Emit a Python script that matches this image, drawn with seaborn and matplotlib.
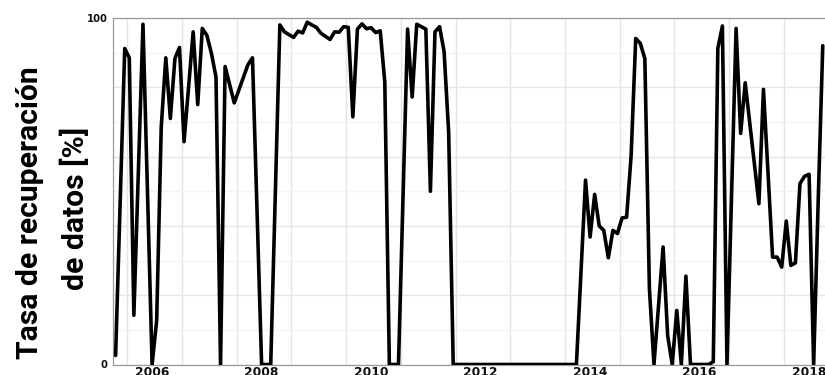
import matplotlib
matplotlib.use("Agg")
import matplotlib.pyplot as plt
from matplotlib.ticker import MultipleLocator, FuncFormatter
import pandas as pd
import seaborn as sns

# Monthly data recovery rate (%), listed at the months where the series changes course
months = [
    "2005-10", "2005-12", "2006-01", "2006-02", "2006-04", "2006-06", "2006-07", "2006-08",
    "2006-09", "2006-10", "2006-11", "2006-12", "2007-01", "2007-03", "2007-04", "2007-05",
    "2007-06", "2007-07", "2007-08", "2007-09", "2007-10", "2007-12", "2008-03", "2008-04",
    "2008-06", "2008-08", "2008-10", "2008-11", "2008-12", "2009-01", "2009-02", "2009-03",
    "2009-04", "2009-05", "2009-06", "2009-07", "2009-09", "2009-10", "2009-11", "2009-12",
    "2010-01", "2010-02", "2010-03", "2010-04", "2010-05", "2010-06", "2010-07", "2010-08",
    "2010-09", "2010-10", "2010-12", "2011-02", "2011-03", "2011-04", "2011-06", "2011-07",
    "2011-08", "2011-09", "2011-10", "2011-11", "2011-12", "2014-03", "2014-05", "2014-06",
    "2014-07", "2014-08", "2014-09", "2014-10", "2014-11", "2014-12", "2015-01", "2015-02",
    "2015-03", "2015-04", "2015-05", "2015-06", "2015-07", "2015-08", "2015-10", "2015-11",
    "2015-12", "2016-01", "2016-02", "2016-03", "2016-04", "2016-08", "2016-09", "2016-10",
    "2016-11", "2016-12", "2017-02", "2017-03", "2017-04", "2017-07", "2017-08", "2017-10",
    "2017-11", "2017-12", "2018-01", "2018-02", "2018-03", "2018-04", "2018-05", "2018-06",
    "2018-07", "2018-08", "2018-09",
]
rate = [
    2.6, 91.2, 88.5, 14.2, 98.2, 0.0, 12.7, 68.5,
    88.5, 71.0, 88.3, 91.5, 64.3, 96.0, 75.0, 97.0,
    95.0, 89.8, 83.0, 0.0, 86.0, 75.5, 86.5, 88.5,
    0.0, 0.0, 98.0, 96.0, 95.2, 94.4, 96.2, 95.7,
    98.8, 98.0, 97.3, 95.6, 93.8, 96.0, 95.9, 97.5,
    97.3, 71.5, 96.8, 98.3, 96.9, 97.2, 95.8, 96.3,
    81.5, 0.0, 0.0, 96.8, 77.2, 98.2, 96.8, 50.0,
    96.0, 97.5, 90.3, 67.0, 0.0, 0.0, 53.2, 36.8,
    49.1, 40.0, 38.7, 30.8, 38.7, 37.8, 42.3, 42.5,
    60.4, 94.1, 92.7, 88.3, 21.9, 0.0, 33.9, 8.4,
    0.0, 15.6, 0.0, 25.5, 0.0, 0.0, 0.8, 91.2,
    97.7, 0.0, 97.0, 66.7, 81.3, 46.4, 79.4, 31.0,
    31.0, 28.1, 41.4, 28.6, 29.3, 52.2, 54.3, 54.9,
    0.0, 47.4, 92.0,
]
label_years = [2006, 2008, 2010, 2012, 2014, 2016, 2018]
y_labels = ["0", "100"]
title_lines = ["Tasa de recuperación", "de datos [%]"]


def decimal_year(ym):
    y, m = ym.split("-")
    return int(y) + (int(m) - 0.5) / 12.0


df = pd.DataFrame({"t": [decimal_year(m) for m in months], "rate": rate})

sns.set_style("white")
plt.rcParams["font.family"] = ["DejaVu Sans"]

fig = plt.figure(figsize=(8.25, 3.75), dpi=100)
W, H = 825.0, 375.0
ax = fig.add_axes([113 / W, (H - 364.5) / H, 712 / W, 346.5 / H])

sns.lineplot(data=df, x="t", y="rate", ax=ax, color="black", linewidth=2.6,
             estimator=None, sort=False, zorder=3)

ax.set_xlim(2005.744, 2018.749)
ax.set_ylim(0, 100)

# vertical grid at each year start, labels centred within the year
ax.xaxis.set_minor_locator(MultipleLocator(1))
ax.set_xticks([y + 0.457 for y in label_years], labels=[str(y) for y in label_years])
ax.grid(axis="x", which="minor", color="#e4e4e4", linewidth=1.0)
ax.grid(axis="x", which="major", visible=False)

ax.yaxis.set_major_locator(MultipleLocator(20))
ax.yaxis.set_minor_locator(MultipleLocator(10))
ax.yaxis.set_major_formatter(FuncFormatter(
    lambda v, p: y_labels[0] if v == 0 else (y_labels[1] if v == 100 else "")))
ax.grid(axis="y", which="major", color="#e6e6e6", linewidth=1.0)
ax.grid(axis="y", which="minor", color="#f3f3f3", linewidth=1.0)

ax.tick_params(axis="x", which="both", length=0, pad=1.0, labelsize=8.8, labelcolor="#111111")
ax.tick_params(axis="y", which="both", length=0, pad=4, labelsize=7.2, labelcolor="#111111")
for lbl in ax.get_xticklabels() + ax.get_yticklabels():
    lbl.set_fontweight("bold")

for side in ["top", "left", "bottom"]:
    ax.spines[side].set_color("#9a9a9a")
    ax.spines[side].set_linewidth(0.9)
ax.spines["right"].set_visible(False)
ax.set_xlabel("")
ax.set_ylabel("")

# two-line vertical axis title, sized so the first line spans 293 px
title_font = dict(family=["Roboto", "DejaVu Sans"], weight="bold", color="black",
                  rotation=90, rotation_mode="anchor", ha="center", va="baseline")
t1 = fig.text(38.5 / W, 1 - 213 / H, title_lines[0], fontsize=22, **title_font)
t2 = fig.text(84 / W, 1 - 208 / H, title_lines[1], fontsize=22, **title_font)
renderer = fig.canvas.get_renderer()
span = t1.get_window_extent(renderer).height
size = 22 * 293.0 / span
t1.set_fontsize(size)
t2.set_fontsize(size)

fig.savefig("out.png", dpi=100)
